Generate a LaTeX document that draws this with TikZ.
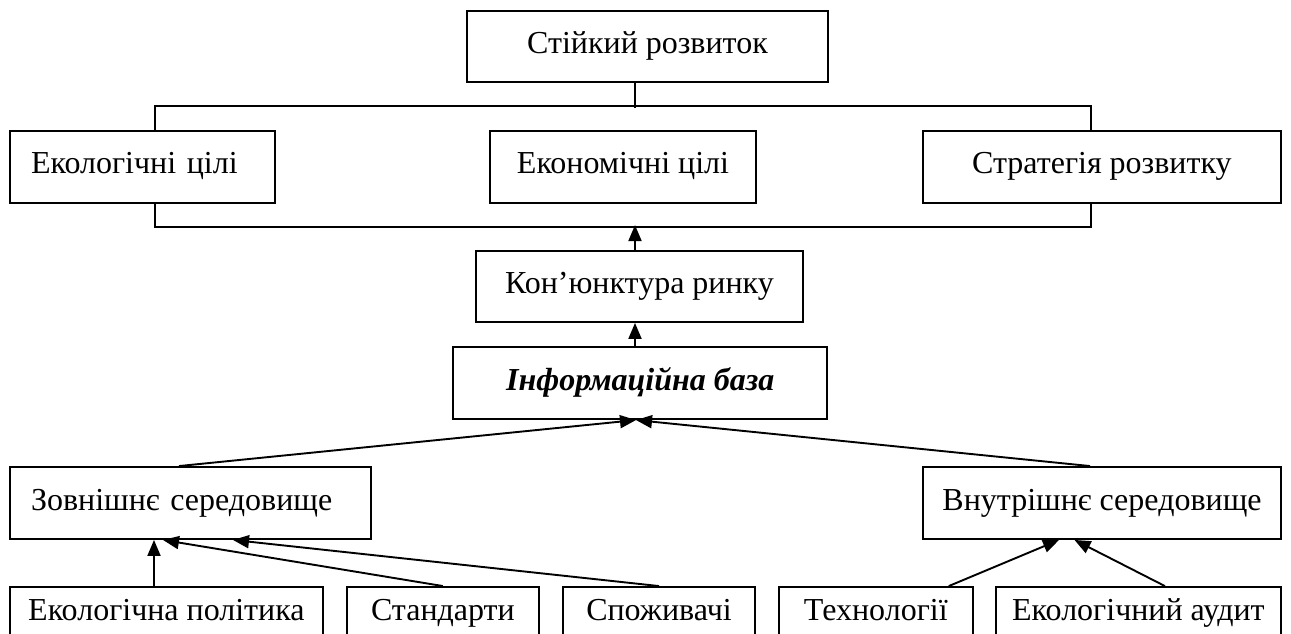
\documentclass[tikz,border=0pt]{standalone}
\usepackage{fontspec}
\setmainfont{Liberation Serif}
\usetikzlibrary{arrows.meta}
\begin{document}
\begin{tikzpicture}[x=1pt,y=-1pt,
  box/.style={draw, line width=1.9pt, fill=white, inner sep=0pt, minimum height=72pt,
    text height=20pt, text depth=6pt, font=\fontsize{32}{36}\selectfont},
  lbox/.style={box, align=left, inner xsep=21pt},
  bbox/.style={box, minimum height=53pt},
  conn/.style={line width=1.9pt},
  arr/.style={line width=1.9pt, -{Triangle[length=16pt,width=13pt]}}
]
\useasboundingbox (0,0) rectangle (1291,633);
\clip (0,0) rectangle (1291,633);

% top level
\node[box, minimum width=361pt, minimum height=71pt] (top) at (647.5,46.5) {Стійкий розвиток};
\node[lbox, text width=223pt] (eko) at (142.5,166.7) {Екологічні цілі};
\node[box, minimum width=266pt] (eco) at (623,166.7) {Економічні цілі};
\node[box, minimum width=358pt] (str) at (1101.9,166.7) {Стратегія розвитку};

\node[box, minimum width=327pt, minimum height=71pt] (kon) at (639.4,286.5) {Кон’юнктура ринку};
\node[box, minimum width=374pt] (info) at (640.3,383.1) {\bfseries\itshape Інформаційна база};

\node[lbox, text width=319pt] (zov) at (190.5,503) {Зовнішнє середовище};
\node[box, minimum width=358pt] (vnu) at (1102,503) {Внутрішнє середовище};

\node[bbox, minimum width=313pt] (ep) at (166.4,613.5) {Екологічна політика};
\node[bbox, minimum width=192pt] (st) at (442.9,613.5) {Стандарти};
\node[bbox, minimum width=192pt] (sp) at (659,613.5) {Споживачі};
\node[bbox, minimum width=194pt] (te) at (875.8,613.5) {Технології};
\node[bbox, minimum width=285pt] (ea) at (1138.4,613.5) {Екологічний аудит};

% brackets
\draw[conn] ([xshift=12.5pt]eko.north) -- ++(0,-24) -| ([xshift=-10.9pt]str.north);
\draw[conn] ([xshift=12.5pt]eko.south) -- ++(0,23.3) -| ([xshift=-10.9pt]str.south);
\draw[conn] ([xshift=-12.5pt]top.south) -- ++(0,24.7);

% arrows
\draw[arr] ([xshift=-4.4pt]kon.north) -- ++(0,-25);
\draw[arr] ([xshift=-5.3pt]info.north) -- ([xshift=-4.4pt]kon.south);
\draw[arr] ([xshift=-11.5pt]zov.north) -- ([xshift=-4.3pt]info.south);
\draw[arr] ([xshift=-12pt]vnu.north) -- ([xshift=-4.3pt]info.south);

\draw[arr] ([xshift=-12.4pt]ep.north) -- ([xshift=-36.5pt]zov.south);
\draw[arr] (st.north) -- ([xshift=-27.5pt]zov.south);
\draw[arr] (sp.north) -- ([xshift=42.5pt]zov.south);
\draw[arr] ([xshift=73pt]te.north) -- ([xshift=-43pt]vnu.south);
\draw[arr] ([xshift=26.5pt]ea.north) -- ([xshift=-27.5pt]vnu.south);
\end{tikzpicture}
\end{document}
